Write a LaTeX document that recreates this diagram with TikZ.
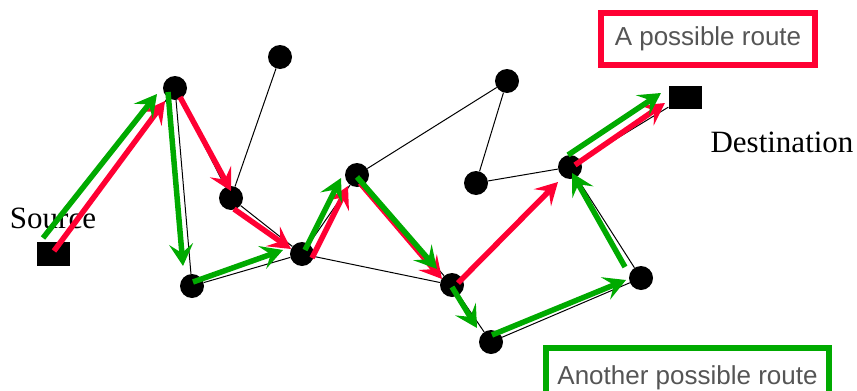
\documentclass[tikz,border=0pt]{standalone}
\usepackage{fontspec}
\setmainfont{Liberation Serif}
\newfontfamily\legendfont{Liberation Sans}
\usetikzlibrary{calc,arrows.meta}
\definecolor{routered}{RGB}{255,0,51}
\definecolor{routegreen}{RGB}{0,170,0}
\definecolor{legendgray}{RGB}{85,85,85}

\begin{document}
\begin{tikzpicture}[x=1pt,y=-1pt,
        vertex/.style={circle,fill=black,inner sep=0pt,minimum size=24pt},
        terminal/.style={rectangle,fill=black,inner sep=0pt,minimum width=33pt,minimum height=24pt},
        link/.style={line width=1pt},
        hop/.style={line width=5.5pt,-{Stealth[length=22pt,width=24pt,inset=9pt]}},
        redhop/.style={hop,color=routered},
        greenhop/.style={hop,color=routegreen},
        legend/.style={draw,line width=6pt,inner sep=0pt,text=legendgray,
            font=\legendfont\fontsize{26}{30}\selectfont},
        bigtext/.style={font=\fontsize{31}{36}\selectfont,inner sep=0pt,anchor=base}]
        \useasboundingbox (0,0) rectangle (857,391);
        % routers
        \node[vertex] (a) at (175,88) {};
        \node[vertex] (b) at (280,57) {};
        \node[vertex] (c) at (231,198) {};
        \node[vertex] (d) at (192,286) {};
        \node[vertex] (e) at (302,254) {};
        \node[vertex] (f) at (357,175) {};
        \node[vertex] (g) at (507,81) {};
        \node[vertex] (h) at (476,183) {};
        \node[vertex] (i) at (452,285) {};
        \node[vertex] (j) at (491,342) {};
        \node[vertex] (k) at (570,167) {};
        \node[vertex] (l) at (641,278) {};
        \node[terminal] (S) at (53,254) {};
        \node[terminal,minimum height=23pt] (D) at (685,97) {};
        \node[bigtext] (srclabel) at (53,228) {Source};
        \node[bigtext] (dstlabel) at (782,152) {Destination};
        % links
        \draw[link] (S) -- (a);
        \draw[link] (a) -- (c);
        \draw[link] (a) -- (d);
        \draw[link] (b) -- (c);
        \draw[link] (c) -- (e);
        \draw[link] (d) -- (e);
        \draw[link] (e) -- (f);
        \draw[link] (e) -- (i);
        \draw[link] (f) -- (g);
        \draw[link] (g) -- (h);
        \draw[link] (h) -- (k);
        \draw[link] (f) -- (i);
        \draw[link] (i) -- (j);
        \draw[link] (j) -- (l);
        \draw[link] (l) -- (k);
        \draw[link] (k) -- (D);
        % first route
        \draw[redhop] ($(S)+(1,-3)$) -- ($(a)+(-10,13)$);
        \draw[redhop] ($(a)+(5,9)$) -- ($(c)+(0,-7)$);
        \draw[redhop] ($(c)+(3,11)$) -- ($(e)+(-11,-5)$);
        \draw[redhop] ($(e)+(10,4)$) -- ($(f)+(-9,11)$);
        \draw[redhop] ($(f)+(3,8)$) -- ($(i)+(-10,-6)$);
        \draw[redhop] ($(i)+(6,-2)$) -- ($(k)+(-12,15)$);
        \draw[redhop] ($(k)+(5,-2)$) -- ($(D)+(-20,6)$);
        % second route
        \draw[greenhop] ($(S)+(-10,-16)$) -- ($(a)+(-18,6)$);
        \draw[greenhop] ($(a)+(-7,4)$) -- ($(d)+(-9,-20)$);
        \draw[greenhop] ($(d)+(1,-4)$) -- ($(e)+(-19,-4)$);
        \draw[greenhop] ($(e)+(3,-4)$) -- ($(f)+(-16,3)$);
        \draw[greenhop] ($(f)+(0,2)$) -- ($(i)+(-15,-16)$);
        \draw[greenhop] ($(i)+(0,2)$) -- ($(j)+(-14,-14)$);
        \draw[greenhop] ($(j)+(1,-7)$) -- ($(l)+(-15,2)$);
        \draw[greenhop] ($(l)+(-16,-11)$) -- ($(k)+(2,6)$);
        \draw[greenhop] ($(k)+(-2,-12)$) -- ($(D)+(-24,-4)$);
        % legends
        \node[legend,draw=routered,minimum width=214pt,minimum height=52pt] (redkey) at (708,39) {A possible route};
        \node[legend,draw=routegreen,minimum width=283pt,minimum height=60pt] (greenkey) at (687.5,378) {Another possible route};
\end{tikzpicture}
\end{document}
